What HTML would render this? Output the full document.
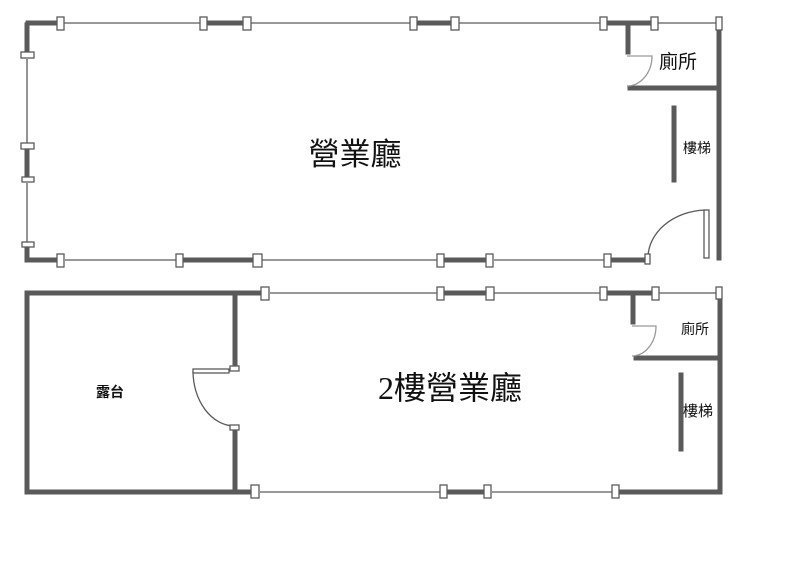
<!DOCTYPE html>
<html><head><meta charset="utf-8"><style>
body{margin:0;background:#fff;}
svg{display:block;}
text{font-family:"Liberation Sans","Noto Sans CJK TC",sans-serif;fill:#111;}
</style></head><body>
<svg width="800" height="577" viewBox="0 0 800 577">
<g stroke="#5a5a5a" fill="none">
<g stroke-width="5" stroke-linecap="square">
<line x1="28" y1="23" x2="57" y2="23"/>
<line x1="207" y1="23" x2="243" y2="23"/>
<line x1="417" y1="23" x2="451" y2="23"/>
<line x1="607" y1="23" x2="651" y2="23"/>
<line x1="27" y1="25" x2="27" y2="52"/>
<line x1="27" y1="150" x2="27" y2="177"/>
<line x1="27" y1="249" x2="27" y2="260"/>
<line x1="28" y1="260" x2="57" y2="260"/>
<line x1="184" y1="260" x2="253" y2="260"/>
<line x1="444" y1="260" x2="486" y2="260"/>
<line x1="611" y1="260" x2="644" y2="260"/>
<line x1="628" y1="23" x2="628" y2="52"/>
<line x1="630" y1="88" x2="718" y2="88"/>
<line x1="719" y1="28" x2="719" y2="258"/>
<line x1="674" y1="108" x2="674" y2="180"/>
</g>
<g stroke-width="1.3">
<line x1="64" y1="23" x2="200" y2="23"/>
<line x1="251" y1="23" x2="410" y2="23"/>
<line x1="459" y1="23" x2="600" y2="23"/>
<line x1="658" y1="23" x2="716" y2="23"/>
<line x1="27" y1="59" x2="27" y2="143"/>
<line x1="27" y1="183" x2="27" y2="242"/>
<line x1="65" y1="260" x2="176" y2="260"/>
<line x1="262" y1="260" x2="437" y2="260"/>
<line x1="494" y1="260" x2="604" y2="260"/>
<path d="M648 258 A60 48 0 0 1 705 210"/>
<rect x="704" y="210" width="5" height="48" fill="#fff"/>
<path d="M627 56 L652 56 A25 30 0 0 1 627 86" stroke="#999"/>
</g>
<g fill="#fff" stroke-width="1.3">
<rect x="57" y="17" width="7" height="13"/><rect x="200" y="17" width="7" height="13"/>
<rect x="243" y="17" width="8" height="13"/><rect x="410" y="17" width="7" height="13"/>
<rect x="451" y="17" width="8" height="13"/><rect x="600" y="17" width="7" height="13"/>
<rect x="651" y="17" width="7" height="13"/><rect x="716" y="17" width="6" height="13"/>
<rect x="21" y="52" width="13" height="6"/><rect x="21" y="143" width="13" height="6"/>
<rect x="22" y="177" width="12" height="5"/><rect x="22" y="242" width="12" height="5"/>
<rect x="57" y="254" width="7" height="13"/><rect x="176" y="254" width="7" height="13"/>
<rect x="253" y="254" width="9" height="13"/><rect x="437" y="254" width="7" height="13"/>
<rect x="486" y="254" width="7" height="13"/><rect x="604" y="254" width="7" height="13"/>
<rect x="645" y="254" width="5" height="10"/>
</g>
<g stroke-width="5" stroke-linecap="square">
<line x1="27" y1="293" x2="260" y2="293"/>
<line x1="27" y1="293" x2="27" y2="492"/>
<line x1="29" y1="492" x2="250" y2="492"/>
<line x1="235" y1="293" x2="235" y2="366"/>
<line x1="235" y1="430" x2="235" y2="490"/>
<line x1="444" y1="293" x2="486" y2="293"/>
<line x1="607" y1="293" x2="651" y2="293"/>
<line x1="633" y1="293" x2="633" y2="322"/>
<line x1="636" y1="358" x2="719" y2="358"/>
<line x1="720" y1="298" x2="720" y2="491"/>
<line x1="681" y1="375" x2="681" y2="449"/>
<line x1="447" y1="492" x2="484" y2="492"/>
<line x1="620" y1="492" x2="720" y2="492"/>
</g>
<g stroke-width="1.3">
<line x1="270" y1="293" x2="437" y2="293"/>
<line x1="494" y1="293" x2="600" y2="293"/>
<line x1="659" y1="293" x2="716" y2="293"/>
<line x1="260" y1="492" x2="440" y2="492"/>
<line x1="492" y1="492" x2="612" y2="492"/>
<path d="M193 371 A42 55 0 0 0 234 426"/>
<rect x="193" y="369" width="36" height="4" fill="#fff"/>
<path d="M632 326 L656 326 A24 30 0 0 1 632 356" stroke="#999"/>
</g>
<g fill="#fff" stroke-width="1.3">
<rect x="261" y="287" width="8" height="13"/><rect x="437" y="287" width="7" height="13"/>
<rect x="486" y="287" width="8" height="13"/><rect x="600" y="287" width="7" height="13"/>
<rect x="652" y="287" width="7" height="13"/><rect x="716" y="287" width="6" height="12"/>
<rect x="230" y="366" width="9" height="5"/><rect x="230" y="425" width="9" height="5"/>
<rect x="251" y="485" width="8" height="13"/><rect x="440" y="485" width="7" height="13"/>
<rect x="484" y="485" width="7" height="13"/><rect x="612" y="485" width="7" height="13"/>
</g>
</g>
<text x="355" y="165" font-size="31" text-anchor="middle">營業廳</text>
<text x="678" y="68" font-size="19" text-anchor="middle">廁所</text>
<text x="697" y="153" font-size="14" text-anchor="middle">樓梯</text>
<text x="450" y="399" font-size="32" text-anchor="middle"><tspan font-family="Liberation Serif">2</tspan>樓營業廳</text>
<text x="695" y="334" font-size="14" text-anchor="middle">廁所</text>
<text x="698" y="416" font-size="15" text-anchor="middle">樓梯</text>
<text x="110" y="397" font-size="14" font-weight="bold" text-anchor="middle">露台</text>
</svg>
</body></html>
